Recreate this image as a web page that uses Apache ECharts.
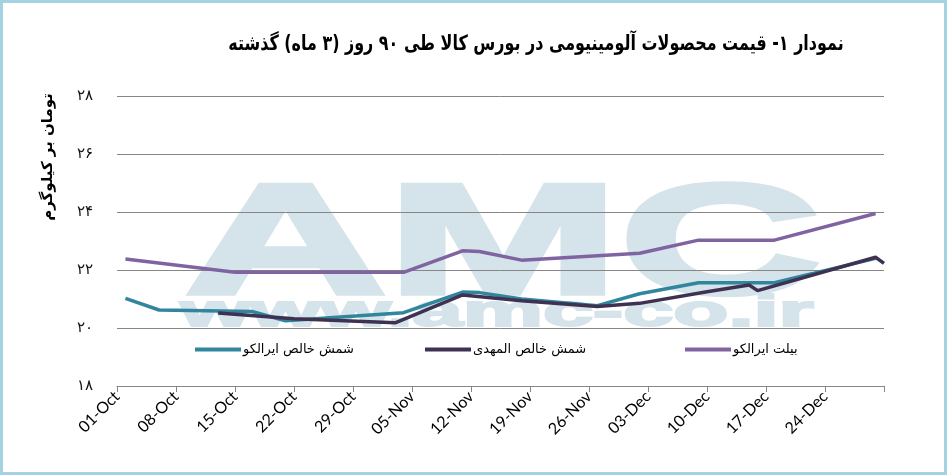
<!DOCTYPE html>
<html>
<head>
<meta charset="utf-8">
<script src="https://cdn.jsdelivr.net/npm/echarts@6/dist/echarts.min.js"></script>
<style>
  html, body { margin: 0; padding: 0; background: #fff; }
  #chart { width: 947px; height: 475px; }
</style>
</head>
<body>
<div id="chart"></div>
<script>
// داده‌ها (تاریخ به صورت ماه-روز)
const xTickLabels = ['01-Oct', '08-Oct', '15-Oct', '22-Oct', '29-Oct', '05-Nov', '12-Nov', '19-Nov', '26-Nov', '03-Dec', '10-Dec', '17-Dec', '24-Dec', ''];
const yTickLabels = ['۱۸', '۲۰', '۲۲', '۲۴', '۲۶', '۲۸'];

const iralcoIngotName = 'شمش خالص ایرالکو';
const iralcoIngotDates = ['10-02', '10-06', '10-17', '10-21', '11-04', '11-11', '11-13', '11-18', '11-27', '12-02', '12-09', '12-18', '12-30'];
const iralcoIngotValues = [21.02, 20.62, 20.57, 20.25, 20.53, 21.24, 21.22, 21.0, 20.77, 21.18, 21.56, 21.56, 22.40];

const mahdiName = 'شمش خالص المهدی';
const mahdiDates = ['10-13', '10-22', '11-03', '11-11', '11-18', '11-27', '12-02', '12-10', '12-15', '12-16', '12-30', '12-31'];
const mahdiValues = [20.52, 20.32, 20.18, 21.14, 20.94, 20.74, 20.85, 21.25, 21.48, 21.29, 22.44, 22.23];

const billetName = 'بیلت ایرالکو';
const billetDates = ['10-02', '10-15', '11-04', '11-11', '11-13', '11-18', '12-02', '12-09', '12-18', '12-30'];
const billetValues = [22.38, 21.92, 21.92, 22.66, 22.64, 22.34, 22.58, 23.03, 23.03, 23.95];

const titleText = 'نمودار ۱- قیمت محصولات آلومینیومی در بورس کالا طی ۹۰ روز (۳ ماه) گذشته';
const yAxisTitle = 'تومان بر کیلوگرم';

// روز از ۱ اکتبر
function dayIndex(md) {
  const m = +md.slice(0, 2), d = +md.slice(3);
  return (Date.UTC(2018, m - 1, d) - Date.UTC(2018, 9, 1)) / 86400000;
}
const pairs = (dates, vals) => dates.map((d, i) => [dayIndex(d), vals[i]]);

const persianFont = '"DejaVu Sans", sans-serif';

const chart = echarts.init(document.getElementById('chart'));

const lineSeries = (name, dates, vals, color) => ({
  name: name,
  type: 'line',
  data: pairs(dates, vals),
  showSymbol: false,
  symbol: 'none',
  lineStyle: { width: 3.5, color: color },
  itemStyle: { color: color },
  z: 3
});

const legendAt = (name, left) => ({
  data: [name],
  left: left,
  top: 338,
  icon: 'rect',
  itemWidth: 46,
  itemHeight: 4,
  itemGap: 0,
  textStyle: { fontFamily: persianFont, fontSize: 13, color: '#000', padding: [0, 0, 0, -3] }
});

const option = {
  animation: false,
  backgroundColor: '#fff',
  legend: [
    legendAt(iralcoIngotName, 190),
    legendAt(mahdiName, 420),
    legendAt(billetName, 680)
  ],
  grid: { left: 117, right: 63, top: 96, bottom: 89, containLabel: false },
  xAxis: {
    type: 'value',
    min: 0,
    max: 91,
    interval: 7,
    axisLine: { lineStyle: { color: '#868686', width: 1 } },
    axisTick: { show: true, length: 6, lineStyle: { color: '#868686' } },
    splitLine: { show: false },
    axisLabel: {
      rotate: 45,
      margin: 8,
      color: '#000',
      fontFamily: 'Lato, sans-serif',
      fontSize: 16,
      formatter: v => xTickLabels[Math.round(v / 7)] || ''
    }
  },
  yAxis: {
    type: 'value',
    min: 18,
    max: 28,
    interval: 2,
    axisLine: { show: false },
    axisTick: { show: false },
    splitLine: { lineStyle: { color: '#868686', width: 1 } },
    axisLabel: {
      margin: 24,
      color: '#111',
      fontFamily: persianFont,
      fontSize: 15,
      formatter: v => yTickLabels[Math.round((v - 18) / 2)]
    }
  },
  graphic: [
    // واترمارک
    {
      type: 'text', z: -10, silent: true,
      x: 503, y: 250, scaleX: 1.78, scaleY: 1,
      style: { text: 'AMC', fill: '#d5e3ea', stroke: '#d5e3ea', lineWidth: 5, font: 'bold 157px "Liberation Sans"', align: 'center', verticalAlign: 'middle' }
    },
    {
      type: 'text', z: -10, silent: true,
      x: 497, y: 314, scaleX: 2.05, scaleY: 1,
      style: { text: 'www.amc-co.ir', fill: '#d5e3ea', stroke: '#d5e3ea', lineWidth: 2, font: 'bold 44px "Liberation Sans"', align: 'center', verticalAlign: 'middle' }
    },
    // عنوان نمودار
    {
      type: 'text', silent: true,
      x: 536, y: 45, scaleX: 0.76, scaleY: 1,
      style: { text: titleText, fill: '#000', font: 'bold 21px ' + persianFont, align: 'center', verticalAlign: 'middle' }
    },
    // عنوان محور عمودی
    {
      type: 'text', silent: true,
      x: 48, y: 157, rotation: Math.PI / 2,
      style: { text: yAxisTitle, fill: '#000', font: 'bold 15px ' + persianFont, align: 'center', verticalAlign: 'middle' }
    },
    // قاب بیرونی
    {
      type: 'rect', silent: true, z: 100,
      shape: { x: 1.5, y: 1.5, width: 944, height: 472 },
      style: { fill: 'none', stroke: '#a3d2e2', lineWidth: 3 }
    }
  ],
  series: [
    lineSeries(iralcoIngotName, iralcoIngotDates, iralcoIngotValues, '#31859c'),
    lineSeries(mahdiName, mahdiDates, mahdiValues, '#3f3151'),
    lineSeries(billetName, billetDates, billetValues, '#8064a2')
  ]
};

chart.setOption(option);
window.addEventListener('resize', () => chart.resize());
</script>
</body>
</html>
